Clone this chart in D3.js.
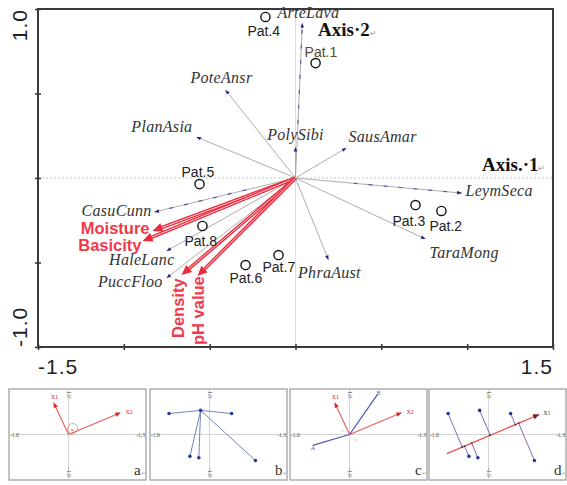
<!DOCTYPE html>
<html>
<head>
<meta charset="utf-8">
<script src="https://cdn.jsdelivr.net/npm/d3@7"></script>
<style>
  html, body { margin: 0; padding: 0; background: #fff; }
  svg { display: block; }
</style>
</head>
<body>
<svg id="chart" width="567" height="485"></svg>
<script>
// ---- Ordination biplot data (axis 1 / axis 2 scores) ----
const speciesNames = ["ArteLava","PoteAnsr","PlanAsia","PolySibi","SausAmar","LeymSeca","TaraMong","PhraAust","CasuCunn","HaleLanc","PuccFloo"];
const speciesAx1   = [0.04, -0.408, -0.577, 0.0, 0.297, 0.967, 0.757, 0.192, -0.821, -0.751, -0.751];
const speciesAx2   = [0.917, 0.521, 0.243, 0.183, 0.178, -0.089, -0.361, -0.485, -0.201, -0.432, -0.592];
const speciesDashed = ["ArteLava","LeymSeca","CasuCunn"];

const envNames = ["Moisture","Basicity","Density","pH value"];
const envAx1   = [-0.833, -0.891, -0.664, -0.571];
const envAx2   = [-0.314, -0.373, -0.574, -0.580];

const sampleNames = ["Pat.1","Pat.2","Pat.3","Pat.4","Pat.5","Pat.6","Pat.7","Pat.8"];
const sampleAx1   = [0.117, 0.850, 0.699, -0.175, -0.559, -0.291, -0.099, -0.542];
const sampleAx2   = [0.680, -0.195, -0.160, 0.953, -0.036, -0.515, -0.456, -0.284];

const xTicks = [-1.5, -1.0, -0.5, 0, 0.5, 1.0, 1.5];
const yTicks = [-1.0, -0.5, 0, 0.5, 1.0];
const xTickLabels = ["-1.5", "1.5"];
const yTickLabels = ["-1.0", "1.0"];
const axisTitles = ["Axis.·1", "Axis·2"];

// ---- Small explanatory panels (a–d) ----
const panelLetters = ["a", "b", "c", "d"];
const panelEdgeLabels = ["-1.0", "-1.3"];
const vecNames = ["X1", "X2"];
const vecAx1 = [-0.25, 0.87];
const vecAx2 = [0.70, 0.48];
const siteAx1 = [-0.68, -0.15, 0.37, -0.33, -0.18, 0.77];
const siteAx2 = [0.46, 0.53, 0.46, -0.48, -0.51, -0.57];
const abNames = ["A", "B"];
const abAx1 = [-0.62, 0.47];
const abAx2 = [-0.24, 0.88];
const lineFrom = [-0.70, -0.42];
const lineTo = [0.85, 0.44];

// ---- Layout tables for label placement ----
const speciesLabelPos = {
  ArteLava: [6, -5, "middle"], PoteAnsr: [-4, -7, "middle"], PlanAsia: [-4, -5, "end"],
  PolySibi: [0, -7, "middle"], SausAmar: [2, -6, "start"], LeymSeca: [4, 3, "start"],
  TaraMong: [4, 19, "start"], PhraAust: [1, 18, "middle"], CasuCunn: [-3, 4, "end"],
  HaleLanc: [8, 14, "end"], PuccFloo: [-4, 9, "end"]
};
const sampleLabelPos = {
  "Pat.1": [-11, -6], "Pat.2": [-12, 20], "Pat.3": [-23, 21], "Pat.4": [-18, 19],
  "Pat.5": [-18, -7], "Pat.6": [-16, 18], "Pat.7": [-16, 17], "Pat.8": [-18, 20]
};

const svg = d3.select("#chart");
const RED = "#ec2a3c";
const REDTXT = "#f03a4a";

// Main plot frame
const L = 38, R = 553, T = 9, B = 347;
const x = d3.scaleLinear().domain([-1.5, 1.5]).range([L, R]);
const y = d3.scaleLinear().domain([-1, 1]).range([B, T]);

const main = svg.append("g");

// zero lines
main.append("line").attr("x1", L).attr("x2", R).attr("y1", y(0)).attr("y2", y(0))
  .attr("stroke", "#c4c4c4").attr("stroke-width", 1).attr("stroke-dasharray", "2,2");
main.append("line").attr("x1", x(0)).attr("x2", x(0)).attr("y1", T).attr("y2", B)
  .attr("stroke", "#dcdcdc").attr("stroke-width", 1);

// ticks through axes
const xAxis = d3.axisBottom(x).tickValues(xTicks).tickSizeInner(6).tickSizeOuter(0).tickFormat("");
const gx = main.append("g").attr("transform", `translate(0,${B - 3})`).call(xAxis);
gx.select(".domain").remove();
gx.selectAll(".tick line").attr("stroke", "#333").attr("stroke-width", 1.5);
const yAxis = d3.axisLeft(y).tickValues(yTicks).tickSizeInner(6).tickSizeOuter(0).tickFormat("");
const gy = main.append("g").attr("transform", `translate(${L + 3},0)`).call(yAxis);
gy.select(".domain").remove();
gy.selectAll(".tick line").attr("stroke", "#333").attr("stroke-width", 1.5);

// frame
main.append("rect").attr("x", L).attr("y", T).attr("width", R - L).attr("height", B - T)
  .attr("fill", "none").attr("stroke", "#3a3a3a").attr("stroke-width", 2);

// end tick labels
const tickText = () => main.append("text")
  .attr("font-family", "Liberation Sans, Arial, sans-serif").attr("font-size", 21)
  .attr("letter-spacing", 1).attr("fill", "#222");
tickText().attr("x", x(-1.5)).attr("y", 374).text(xTickLabels[0]).attr("text-anchor", "start");
tickText().attr("x", x(1.5)).attr("y", 374).text(xTickLabels[1]).attr("text-anchor", "end");
tickText().attr("transform", `translate(27,${y(-1)}) rotate(-90)`).text(yTickLabels[0]).attr("text-anchor", "start");
tickText().attr("transform", `translate(27,${y(1)}) rotate(-90)`).text(yTickLabels[1]).attr("text-anchor", "end");

// species arrows
const x0 = x(0), y0 = y(0);
speciesNames.forEach((name, i) => {
  const tx = x(speciesAx1[i]), ty = y(speciesAx2[i]);
  main.append("line").attr("x1", x0).attr("y1", y0).attr("x2", tx).attr("y2", ty)
    .attr("stroke", "#a4a4a4").attr("stroke-width", 0.9);
  if (speciesDashed.includes(name)) {
    main.append("line")
      .attr("x1", x0 + (tx - x0) * 0.35).attr("y1", y0 + (ty - y0) * 0.35)
      .attr("x2", tx).attr("y2", ty)
      .attr("stroke", "#4b56b0").attr("stroke-width", 1.1).attr("stroke-dasharray", "4,11");
  }
  const ang = Math.atan2(ty - y0, tx - x0) * 180 / Math.PI;
  main.append("path").attr("d", "M0,0 L-4.5,-1.8 L-4.5,1.8 Z")
    .attr("transform", `translate(${tx},${ty}) rotate(${ang})`).attr("fill", "#23237a");
  const p = speciesLabelPos[name];
  main.append("text").attr("x", tx + p[0]).attr("y", ty + p[1]).text(name)
    .attr("text-anchor", p[2])
    .attr("font-family", "Liberation Serif, Times New Roman, serif").attr("font-style", "italic")
    .attr("font-size", 16).attr("letter-spacing", 0.3).attr("fill", "#333");
});

// environmental arrows
envNames.forEach((name, i) => {
  const tx = x(envAx1[i]), ty = y(envAx2[i]);
  const ang = Math.atan2(ty - y0, tx - x0);
  const bx = tx - Math.cos(ang) * 9, by = ty - Math.sin(ang) * 9;
  main.append("line").attr("x1", x0).attr("y1", y0).attr("x2", bx).attr("y2", by)
    .attr("stroke", RED).attr("stroke-width", 3.4);
  main.append("line").attr("x1", x0).attr("y1", y0).attr("x2", bx).attr("y2", by)
    .attr("stroke", "#fff").attr("stroke-width", 0.9).attr("opacity", 0.85);
  main.append("path").attr("d", "M0,0 L-10,-4.5 L-10,4.5 Z")
    .attr("transform", `translate(${tx},${ty}) rotate(${ang * 180 / Math.PI})`).attr("fill", RED);
});
const envText = (s) => main.append("text").text(s)
  .attr("font-family", "Liberation Sans, Arial, sans-serif").attr("font-weight", "bold")
  .attr("font-size", 16.5).attr("fill", REDTXT);
envText(envNames[0]).attr("x", x(envAx1[0]) - 3).attr("y", y(envAx2[0]) + 3).attr("text-anchor", "end");
envText(envNames[1]).attr("x", x(envAx1[1]) - 1).attr("y", y(envAx2[1]) + 10).attr("text-anchor", "end");
envText(envNames[2]).attr("transform", `translate(${x(envAx1[2]) + 2},${y(envAx2[2]) + 63}) rotate(-90)`);
envText(envNames[3]).attr("transform", `translate(${x(envAx1[3]) + 7},${y(envAx2[3]) + 69}) rotate(-90)`);

// samples
sampleNames.forEach((name, i) => {
  const cx = x(sampleAx1[i]), cy = y(sampleAx2[i]);
  main.append("circle").attr("cx", cx).attr("cy", cy).attr("r", 4.6)
    .attr("fill", "none").attr("stroke", "#111").attr("stroke-width", 1.4);
  const p = sampleLabelPos[name];
  main.append("text").attr("x", cx + p[0]).attr("y", cy + p[1]).text(name)
    .attr("font-family", "Liberation Sans, Arial, sans-serif").attr("font-size", 14)
    .attr("fill", name === "Pat.1" ? "#5a4a30" : "#222");
});

// axis titles
const titleText = (s, tx, ty) => {
  const t = main.append("text").attr("x", tx).attr("y", ty)
    .attr("font-family", "Liberation Serif, Times New Roman, serif").attr("font-weight", "bold")
    .attr("font-size", 19).attr("fill", "#111");
  t.append("tspan").text(s);
  t.append("tspan").text("↵").attr("font-size", 8).attr("font-weight", "normal").attr("fill", "#999");
};
titleText(axisTitles[0], 482, 171);
titleText(axisTitles[1], 318, 36);

// ---- panels ----
const panelLeft = [9, 150, 290, 429];
const PW = 137, PTOP = 389, PH = 91;
panelLetters.forEach((letter, k) => {
  const g = svg.append("g");
  const px = d3.scaleLinear().domain([-1.0, 1.3]).range([panelLeft[k], panelLeft[k] + PW]);
  const py = d3.scaleLinear().domain([-1, 1]).range([PTOP + PH, PTOP]);
  g.append("rect").attr("x", panelLeft[k]).attr("y", PTOP).attr("width", PW).attr("height", PH)
    .attr("fill", "#fff").attr("stroke", "#9a9a9a").attr("stroke-width", 1.2);
  g.append("line").attr("x1", panelLeft[k]).attr("x2", panelLeft[k] + PW).attr("y1", py(0)).attr("y2", py(0))
    .attr("stroke", "#c8c8c8").attr("stroke-width", 0.8);
  g.append("line").attr("x1", px(0)).attr("x2", px(0)).attr("y1", PTOP).attr("y2", PTOP + PH)
    .attr("stroke", "#c8c8c8").attr("stroke-width", 0.8);
  const tiny = (s) => g.append("text").text(s).attr("font-family", "Liberation Serif, serif")
    .attr("font-size", 5.5).attr("fill", "#444");
  tiny(panelEdgeLabels[0]).attr("x", panelLeft[k] + 1).attr("y", py(0) + 2);
  tiny(panelEdgeLabels[1]).attr("x", panelLeft[k] + PW - 1).attr("y", py(0) + 2).attr("text-anchor", "end");
  tiny("1.0").attr("transform", `translate(${px(0) - 1.5},${PTOP + 2}) rotate(90)`);
  tiny("-1.0").attr("transform", `translate(${px(0) - 1.5},${PTOP + PH - 12}) rotate(90)`);
  const lt = g.append("text").attr("x", panelLeft[k] + PW - 12).attr("y", PTOP + PH - 5)
    .attr("font-family", "Liberation Serif, Times New Roman, serif").attr("font-size", 15).attr("fill", "#333");
  lt.append("tspan").text(letter);
  lt.append("tspan").text("↵").attr("font-size", 5).attr("fill", "#999");

  const arrow = (tx, ty, color, size) => {
    const ang = Math.atan2(ty - py(0), tx - px(0)) * 180 / Math.PI;
    g.append("path").attr("d", `M0,0 L${-size},${-size * 0.45} L${-size},${size * 0.45} Z`)
      .attr("transform", `translate(${tx},${ty}) rotate(${ang})`).attr("fill", color);
  };
  const vecLabel = (s, tx, ty, color) => g.append("text").text(s).attr("x", tx).attr("y", ty)
    .attr("font-family", "Liberation Serif, serif").attr("font-size", 6).attr("fill", color);

  if (letter === "a" || letter === "c") {
    vecNames.forEach((v, i) => {
      const tx = px(vecAx1[i]), ty = py(vecAx2[i]);
      g.append("line").attr("x1", px(0)).attr("y1", py(0)).attr("x2", tx).attr("y2", ty)
        .attr("stroke", "#ee5a5a").attr("stroke-width", 1.1);
      arrow(tx, ty, "#e02020", 5);
      if (i === 0) vecLabel(v, tx - 3, ty - 4, "#e02020");
      else vecLabel(v, tx + 5, ty + 1, "#e02020");
    });
  }
  if (letter === "a") {
    g.append("circle").attr("cx", px(0) + 4).attr("cy", py(0) - 6).attr("r", 5)
      .attr("fill", "none").attr("stroke", "#888").attr("stroke-width", 0.6);
    g.append("text").text("α").attr("x", px(0) + 2.5).attr("y", py(0) - 4)
      .attr("font-size", 5).attr("fill", "#e02020");
  }
  if (letter === "c") {
    abNames.forEach((v, i) => {
      const tx = px(abAx1[i]), ty = py(abAx2[i]);
      g.append("line").attr("x1", px(0)).attr("y1", py(0)).attr("x2", tx).attr("y2", ty)
        .attr("stroke", "#4d5cb0").attr("stroke-width", 1.3);
      if (i === 0) vecLabel(v, tx - 2, ty + 5, "#4d5cb0");
      else vecLabel(v, tx - 1, ty + 1, "#4d5cb0");
    });
    g.append("text").text("s1").attr("x", px(0) - 9).attr("y", py(0) - 3)
      .attr("font-size", 4).attr("fill", "#bbb");
    g.append("text").text("x0").attr("x", px(0) + 4).attr("y", py(0) + 6)
      .attr("font-size", 4).attr("fill", "#bbb");
  }
  if (letter === "b") {
    const hub = 1;
    siteAx1.forEach((v, i) => {
      if (i === hub) return;
      g.append("line").attr("x1", px(siteAx1[hub])).attr("y1", py(siteAx2[hub]))
        .attr("x2", px(v)).attr("y2", py(siteAx2[i])).attr("stroke", "#7482c0").attr("stroke-width", 1);
    });
    siteAx1.forEach((v, i) => {
      g.append("circle").attr("cx", px(v)).attr("cy", py(siteAx2[i])).attr("r", 1.8).attr("fill", "#2a3a9a");
    });
  }
  if (letter === "d") {
    const ax = px(lineFrom[0]), ay = py(lineFrom[1]);
    const bx = px(lineTo[0]), by = py(lineTo[1]);
    const dx = bx - ax, dy = by - ay, len2 = dx * dx + dy * dy;
    siteAx1.forEach((v, i) => {
      const sx = px(v), sy = py(siteAx2[i]);
      const t = ((sx - ax) * dx + (sy - ay) * dy) / len2;
      const fx = ax + t * dx, fy = ay + t * dy;
      g.append("line").attr("x1", sx).attr("y1", sy).attr("x2", fx).attr("y2", fy)
        .attr("stroke", "#8a6aa8").attr("stroke-width", 1);
    });
    g.append("line").attr("x1", ax).attr("y1", ay).attr("x2", bx).attr("y2", by)
      .attr("stroke", "#ee4a4a").attr("stroke-width", 1.3);
    arrow(bx, by, "#7a1a1a", 6);
    siteAx1.forEach((v, i) => {
      const sx = px(v), sy = py(siteAx2[i]);
      const t = ((sx - ax) * dx + (sy - ay) * dy) / len2;
      g.append("circle").attr("cx", ax + t * dx).attr("cy", ay + t * dy).attr("r", 0.9).attr("fill", "#333");
      g.append("circle").attr("cx", sx).attr("cy", sy).attr("r", 1.8).attr("fill", "#2a3a9a");
    });
    vecLabel(vecNames[0], bx + 4, by + 1, "#333");
  }
});
</script>
</body>
</html>
